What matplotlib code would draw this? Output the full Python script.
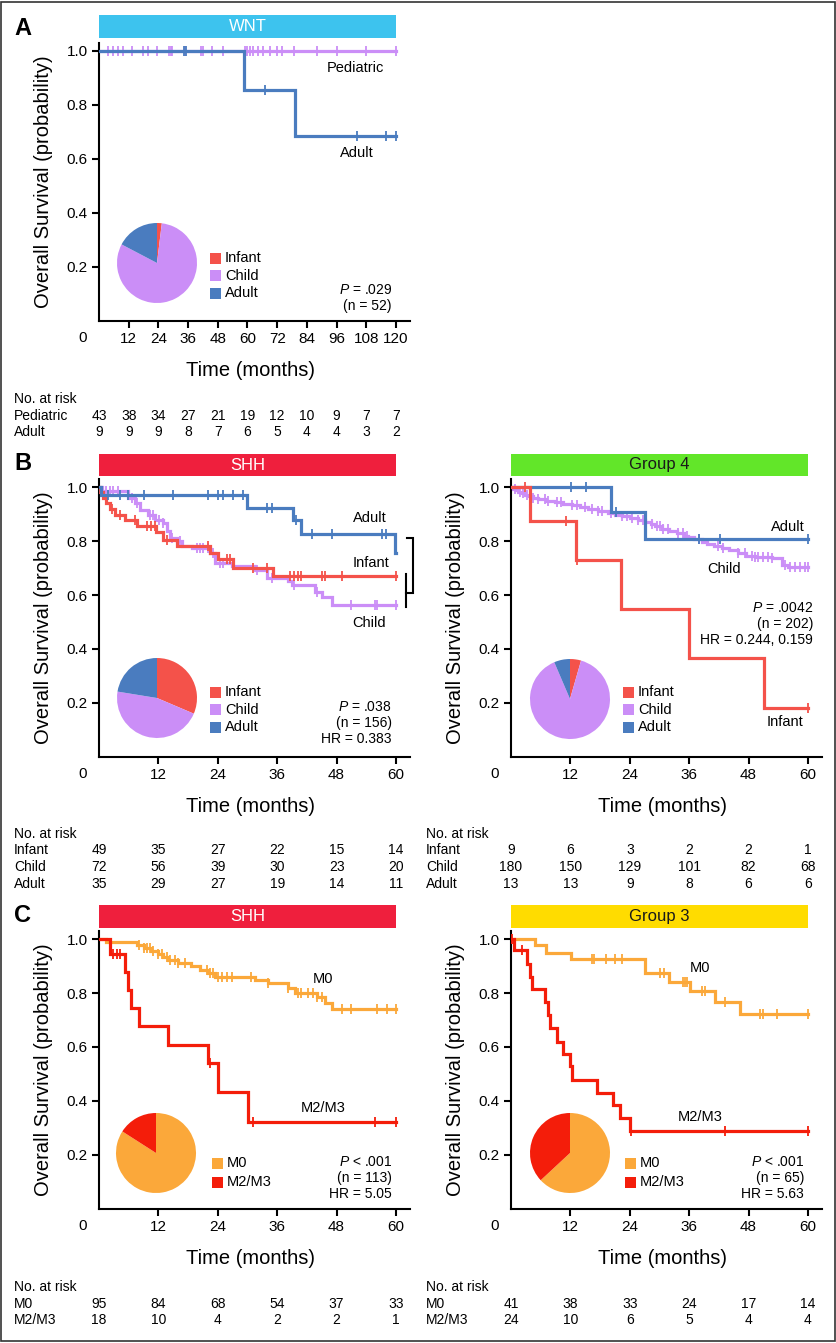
import numpy as np
import matplotlib
matplotlib.use('Agg')
import matplotlib.pyplot as plt
from matplotlib.patches import Rectangle
from matplotlib.transforms import blended_transform_factory

plt.rcParams['font.family'] = ['Liberation Sans', 'DejaVu Sans']
plt.rcParams['mathtext.fontset'] = 'custom'
plt.rcParams['mathtext.rm'] = 'Liberation Sans'
plt.rcParams['mathtext.it'] = 'Liberation Sans:italic'

# ---------------- colours ----------------
C_INF = '#F4524A'
C_CHILD = '#CB8EF7'
C_ADULT = '#4A7CBF'
C_M0 = '#FBA83A'
C_M23 = '#F41D0A'

# ---------------- DATA ----------------
# Panel A  (WNT)
A_title = 'WNT'
A_ped_t = []
A_ped_s = []
A_ped_c = [3.5, 5.8, 7.8, 9.8, 13.5, 17.6, 19.9, 23.3, 28.3, 29.0, 29.6, 34.7, 41.2, 41.9,
           45.5, 50.2, 59.0, 59.7, 61.0, 62.3, 64.4, 66.4, 69.1, 71.8, 73.8, 78.9, 87.9,
           96.0, 107.8, 120.0]
A_adult_t = [58.6, 79.2]
A_adult_s = [0.857, 0.686]
A_adult_c = [34.3, 35.3, 67.1, 104.4, 116.0, 120.0]
A_pie_labels = ['Infant', 'Child', 'Adult']
A_pie_values = [1, 42, 9]
A_risk_times = [0, 12, 24, 36, 48, 60, 72, 84, 96, 108, 120]
A_risk_ped = [43, 38, 34, 27, 21, 19, 12, 10, 9, 7, 7]
A_risk_adult = [9, 9, 9, 8, 7, 6, 5, 4, 4, 3, 2]
A_stats = ['$P$ = .029', '(n = 52)']

# Panel B left (SHH, age)
BL_title = 'SHH'
BL_inf_t = [0.3, 0.8, 1.5, 2.3, 3.2, 5.3, 7.6, 11.6, 13.0, 15.7, 22.4, 24.1, 27.1, 35.2]
BL_inf_s = [0.980, 0.959, 0.939, 0.918, 0.897, 0.878, 0.856, 0.835, 0.804, 0.781, 0.755,
            0.733, 0.701, 0.671]
BL_inf_c = [2.6, 4.2, 7.3, 9.6, 10.6, 11.3, 13.7, 22.1, 25.8, 26.5, 31.2, 33.9, 38.6, 39.3,
            40.3, 40.9, 45.0, 45.7, 49.0, 60.0]
BL_child_t = [0.6, 5.9, 7.3, 8.3, 10.0, 11.3, 13.0, 13.7, 14.3, 15.7, 16.7, 18.7, 22.4, 23.4,
              26.8, 31.5, 33.9, 38.2, 38.9, 43.6, 45.0, 47.0]
BL_child_s = [0.986, 0.959, 0.941, 0.916, 0.897, 0.879, 0.866, 0.836, 0.811, 0.799, 0.780,
              0.774, 0.756, 0.720, 0.706, 0.694, 0.664, 0.652, 0.636, 0.610, 0.592, 0.563]
BL_child_c = [1.5, 2.2, 2.9, 3.9, 6.6, 7.6, 10.3, 11.0, 12.2, 13.0, 14.7, 16.4, 19.7, 20.4,
              21.1, 22.1, 23.1, 24.4, 25.1, 31.9, 34.9, 39.3, 44.0, 51.0, 55.8, 56.1, 60.0]
BL_adult_t = [0.5, 29.8, 39.1, 40.9, 59.9]
BL_adult_s = [0.971, 0.923, 0.878, 0.825, 0.754]
BL_adult_c = [1.9, 4.2, 5.9, 9.0, 15.0, 22.1, 24.1, 25.0, 27.1, 29.0, 33.9, 34.9, 39.9, 43.0,
              47.0, 57.1, 58.0]
BL_pie_values = [49, 72, 35]
B_risk_times = [0, 12, 24, 36, 48, 60]
BL_risk_inf = [49, 35, 27, 22, 15, 14]
BL_risk_child = [72, 56, 39, 30, 23, 20]
BL_risk_adult = [35, 29, 27, 19, 14, 11]
BL_stats = ['$P$ = .038', '(n = 156)', 'HR = 0.383']

# Panel B right (Group 4, age)
BR_title = 'Group 4'
BR_inf_t = [3.8, 13.1, 22.2, 36.0, 51.1]
BR_inf_s = [0.875, 0.729, 0.547, 0.365, 0.182]
BR_inf_c = [2.8, 11.1, 13.3, 60.0]
BR_child_t = [0.5, 1.0, 1.5, 2.2, 2.8, 3.6, 4.5, 5.5, 7.0, 8.9, 10.5, 12.3, 14.0, 15.6, 17.5,
              19.5, 21.0, 22.4, 24.0, 25.7, 27.0, 28.2, 29.1, 30.5, 32.0, 33.5, 35.0, 35.8,
              37.0, 38.5, 39.5, 41.0, 42.6, 44.0, 45.9, 47.5, 49.3, 52.7, 54.7, 56.0]
BR_child_s = [0.994, 0.989, 0.983, 0.978, 0.972, 0.966, 0.961, 0.955, 0.949, 0.944, 0.938,
              0.932, 0.925, 0.918, 0.912, 0.905, 0.898, 0.891, 0.885, 0.878, 0.870, 0.862,
              0.854, 0.846, 0.838, 0.829, 0.820, 0.815, 0.806, 0.797, 0.790, 0.781, 0.773,
              0.765, 0.755, 0.746, 0.740, 0.736, 0.712, 0.702]
BR_child_c = [0.8, 1.8, 2.5, 3.2, 3.8, 4.5, 5.5, 6.9, 7.5, 9.2, 10.2, 12.3, 13.3, 15.0, 16.3,
              17.6, 18.3, 20.3, 22.4, 23.4, 24.4, 25.7, 26.7, 28.4, 29.4, 30.1, 30.8, 31.8,
              33.8, 34.8, 35.5, 37.9, 41.9, 42.9, 45.9, 47.3, 48.6, 49.3, 50.0, 51.0, 52.0,
              52.7, 55.4, 56.4, 57.4, 58.4, 59.4, 60.0]
BR_adult_t = [20.2, 27.1]
BR_adult_s = [0.909, 0.808]
BR_adult_c = [12.1, 15.2, 21.3, 38.0, 42.2, 60.0]
BR_pie_values = [9, 180, 13]
BR_risk_inf = [9, 6, 3, 2, 2, 1]
BR_risk_child = [180, 150, 129, 101, 82, 68]
BR_risk_adult = [13, 13, 9, 8, 6, 6]
BR_stats = ['$P$ = .0042', '(n = 202)', 'HR = 0.244, 0.159']

# Panel C left (SHH, metastasis)
CL_title = 'SHH'
CL_m0_t = [1.5, 7.6, 9.0, 10.5, 12.0, 13.0, 14.0, 16.0, 18.5, 20.5, 22.0, 23.4, 31.5, 34.2,
           38.2, 39.6, 44.0, 45.7, 47.0]
CL_m0_s = [0.989, 0.978, 0.967, 0.956, 0.945, 0.934, 0.922, 0.911, 0.899, 0.887, 0.875,
           0.860, 0.849, 0.836, 0.818, 0.801, 0.786, 0.764, 0.741]
CL_m0_c = [8.0, 9.0, 9.6, 10.3, 11.0, 12.0, 12.7, 13.7, 14.3, 15.4, 16.0, 17.4, 21.8, 22.4,
           23.1, 24.1, 24.8, 25.8, 26.8, 30.8, 34.2, 38.2, 40.3, 40.9, 42.3, 43.3, 44.0,
           45.0, 49.0, 51.0, 56.1, 58.1, 60.0]
CL_m23_t = [2.2, 5.3, 5.9, 6.5, 8.0, 13.9, 22.1, 24.1, 30.2]
CL_m23_s = [0.944, 0.879, 0.811, 0.743, 0.676, 0.607, 0.542, 0.432, 0.324]
CL_m23_c = [2.9, 3.6, 4.2, 22.4, 31.2, 55.8, 60.0]
M_pie_labels = ['M0', 'M2/M3']
CL_pie_values = [95, 18]
CL_risk_m0 = [95, 84, 68, 54, 37, 33]
CL_risk_m23 = [18, 10, 4, 2, 2, 1]
CL_stats = ['$P$ < .001', '(n = 113)', 'HR = 5.05']

# Panel C right (Group 3, metastasis)
CR_title = 'Group 3'
CR_m0_t = [4.9, 7.0, 12.1, 27.0, 32.0, 36.2, 41.2, 46.2]
CR_m0_s = [0.976, 0.949, 0.925, 0.873, 0.842, 0.809, 0.768, 0.722]
CR_m0_c = [16.4, 16.8, 19.1, 21.0, 22.4, 30.1, 31.0, 34.8, 35.2, 35.5, 38.5, 39.1, 43.2,
           50.3, 51.0, 53.7, 60.0]
CR_m23_t = [0.7, 3.2, 3.8, 4.2, 6.9, 7.4, 7.9, 9.2, 10.6, 11.9, 12.3, 17.3, 20.7, 22.0, 24.0]
CR_m23_s = [0.958, 0.909, 0.860, 0.814, 0.766, 0.718, 0.669, 0.620, 0.573, 0.528, 0.479,
            0.430, 0.385, 0.338, 0.289]
CR_m23_c = [0.3, 2.2, 24.3, 43.2, 60.0]
CR_pie_values = [41, 24]
CR_risk_m0 = [41, 38, 33, 24, 17, 14]
CR_risk_m23 = [24, 10, 6, 5, 4, 4]
CR_stats = ['$P$ < .001', '(n = 65)', 'HR = 5.63']

# ---------------- FIGURE ----------------
W, H = 837, 1343
fig = plt.figure(figsize=(W / 100, H / 100), dpi=100)
fig.patch.set_facecolor('white')


def fx(px):
    return px / W


def fy(py):
    return 1 - py / H


def ftext(px, py, s, **kw):
    fig.text(fx(px), fy(py), s, **kw)


def make_axes(left, top, right, bottom, xmax, ticks):
    ax = fig.add_axes([fx(left), fy(bottom), (right - left) / W, (bottom - top) / H])
    ax.set_xlim(0, xmax)
    ax.set_ylim(0, (bottom - top) / 270.0)
    for sp in ['top', 'right']:
        ax.spines[sp].set_visible(False)
    for sp in ['left', 'bottom']:
        ax.spines[sp].set_linewidth(1.5)
    ax.set_xticks(ticks)
    ax.set_xticklabels([str(t) for t in ticks])
    ax.set_yticks([0.2, 0.4, 0.6, 0.8, 1.0])
    ax.set_yticklabels(['0.2', '0.4', '0.6', '0.8', '1.0'])
    ax.tick_params(axis='both', direction='out', length=5, width=1.5, labelsize=11, pad=3)
    ax.patch.set_alpha(0)
    # origin "0"
    ax.annotate('0', xy=(0, 0), xycoords='axes fraction', xytext=(-16 * 0.72, -17 * 0.72),
                textcoords='offset points', ha='center', va='center', fontsize=11)
    # y label and x label
    ax.text((44 - 99) / (right - left) if left < 400 else (456 - 511) / (right - left), 0.5,
            'Overall Survival (probability)', transform=ax.transAxes, rotation=90,
            ha='center', va='center', fontsize=14.5)
    ftext((left + right) / 2 - 4, bottom + 50, 'Time (months)', ha='center', va='center',
          fontsize=14.5)
    return ax


def banner(ax, top_px, bot_px, axtop, axbot, xend, text, color, tcolor):
    tr = blended_transform_factory(ax.transData, ax.transAxes)
    h = axbot - axtop
    y0 = (axbot - bot_px) / h
    y1 = (axbot - top_px) / h
    ax.add_patch(Rectangle((0, y0), xend, y1 - y0, transform=tr, facecolor=color,
                           edgecolor='none', clip_on=False))
    ax.text(xend / 2, (y0 + y1) / 2, text, transform=tr, ha='center', va='center',
            color=tcolor, fontsize=12)


def km(ax, t, s, end, cens, color, z):
    t = np.asarray(t, dtype=float)
    s = np.asarray(s, dtype=float)
    last = s[-1] if len(s) else 1.0
    x = np.concatenate([[0.0], t, [end]])
    y = np.concatenate([[1.0], s, [last]])
    ax.step(x, y, where='post', color=color, lw=2.3, zorder=z, solid_joinstyle='miter')
    ct = np.asarray(cens, dtype=float)
    idx = np.searchsorted(t, ct, side='right')
    cy = np.concatenate([[1.0], s])[idx]
    ax.plot(ct, cy, ls='none', marker='|', ms=6.5, mew=1.3, color=color, zorder=z + 0.5)


def pie(cx, cy, values, colors):
    r = 40
    pa = fig.add_axes([fx(cx - r), fy(cy + r), 2 * r / W, 2 * r / H])
    pa.pie(values, colors=colors, startangle=90, counterclock=False, radius=1,
           wedgeprops=dict(linewidth=0))
    pa.set_xlim(-1, 1)
    pa.set_ylim(-1, 1)
    pa.set_aspect('equal')
    pa.axis('off')


def legend(x, y, labels, colors, dy):
    for i, (lab, col) in enumerate(zip(labels, colors)):
        yy = y + i * dy
        fig.patches.append(Rectangle((fx(x), fy(yy + 5.5)), 11 / W, 11 / H,
                                     transform=fig.transFigure, facecolor=col,
                                     edgecolor='none'))
        ftext(x + 15, yy, lab, ha='left', va='center', fontsize=10.5)


def stats(xr, y, lines):
    for i, ln in enumerate(lines):
        ftext(xr, y + i * 16, ln, ha='right', va='center', fontsize=10)


def risk(ax, label_x, y0, times, rows, names):
    tr = blended_transform_factory(ax.transData, fig.transFigure)
    ftext(label_x, y0, 'No. at risk', ha='left', va='center', fontsize=10)
    for i, (name, vals) in enumerate(zip(names, rows)):
        yy = y0 + 16.5 * (i + 1)
        ftext(label_x, yy, name, ha='left', va='center', fontsize=10)
        for t, v in zip(times, vals):
            ax.text(t, fy(yy), str(v), transform=tr, ha='center', va='center', fontsize=10)


def label_at(ax, x, y, s):
    ax.text(x, y, s, ha='center', va='center', fontsize=10.5)


# ---------- Panel A ----------
axA = make_axes(99, 43, 410, 321, 125.66, [12, 24, 36, 48, 60, 72, 84, 96, 108, 120])
banner(axA, 15, 38, 43, 321, 120, A_title, '#3DC3EE', 'white')
km(axA, A_ped_t, A_ped_s, 120, A_ped_c, C_CHILD, 2)
km(axA, A_adult_t, A_adult_s, 120, A_adult_c, C_ADULT, 3)
label_at(axA, 103.8, 0.937, 'Pediatric')
label_at(axA, 104.2, 0.622, 'Adult')
pie(157, 263, A_pie_values, [C_INF, C_CHILD, C_ADULT])
legend(210, 258, A_pie_labels, [C_INF, C_CHILD, C_ADULT], 17.5)
stats(392, 290, A_stats)
risk(axA, 14, 399, A_risk_times, [A_risk_ped, A_risk_adult], ['Pediatric', 'Adult'])
ftext(14, 35, 'A', ha='left', va='baseline', fontsize=17, fontweight='bold')

# ---------- Panel B left ----------
axBL = make_axes(99, 479, 410, 757, 62.83, [12, 24, 36, 48, 60])
banner(axBL, 454, 476, 479, 757, 60, BL_title, '#EF1F3D', 'white')
km(axBL, BL_child_t, BL_child_s, 60, BL_child_c, C_CHILD, 2)
km(axBL, BL_inf_t, BL_inf_s, 60, BL_inf_c, C_INF, 3)
km(axBL, BL_adult_t, BL_adult_s, 60, BL_adult_c, C_ADULT, 4)
label_at(axBL, 54.7, 0.885, 'Adult')
label_at(axBL, 54.9, 0.719, 'Infant')
label_at(axBL, 54.5, 0.496, 'Child')
# significance brackets
axBL.plot([62.3, 63.4, 63.4, 62.0], [0.812, 0.812, 0.609, 0.609], color='black', lw=1.5,
          clip_on=False, solid_joinstyle='miter')
axBL.plot([62.0, 62.0], [0.677, 0.557], color='black', lw=1.5, clip_on=False)
pie(157, 698, BL_pie_values, [C_INF, C_CHILD, C_ADULT])
legend(210, 692, A_pie_labels, [C_INF, C_CHILD, C_ADULT], 17.5)
stats(392, 707, BL_stats)
risk(axBL, 14, 834, B_risk_times, [BL_risk_inf, BL_risk_child, BL_risk_adult],
     ['Infant', 'Child', 'Adult'])
ftext(14, 470, 'B', ha='left', va='baseline', fontsize=17, fontweight='bold')

# ---------- Panel B right ----------
axBR = make_axes(511, 479, 822, 757, 62.83, [12, 24, 36, 48, 60])
banner(axBR, 454, 476, 479, 757, 60, BR_title, '#62E629', '#1a1a1a')
km(axBR, BR_child_t, BR_child_s, 60, BR_child_c, C_CHILD, 2)
km(axBR, BR_adult_t, BR_adult_s, 60, BR_adult_c, C_ADULT, 3)
km(axBR, BR_inf_t, BR_inf_s, 60, BR_inf_c, C_INF, 4)
label_at(axBR, 56.0, 0.852, 'Adult')
label_at(axBR, 43.0, 0.696, 'Child')
label_at(axBR, 55.4, 0.130, 'Infant')
pie(570, 699, BR_pie_values, [C_INF, C_CHILD, C_ADULT])
legend(623, 692, A_pie_labels, [C_INF, C_CHILD, C_ADULT], 17.5)
stats(813, 608, BR_stats)
risk(axBR, 426, 834, B_risk_times, [BR_risk_inf, BR_risk_child, BR_risk_adult],
     ['Infant', 'Child', 'Adult'])

# ---------- Panel C left ----------
axCL = make_axes(99, 931, 410, 1209, 62.83, [12, 24, 36, 48, 60])
banner(axCL, 905, 928, 931, 1209, 60, CL_title, '#EF1F3D', 'white')
km(axCL, CL_m0_t, CL_m0_s, 60, CL_m0_c, C_M0, 2)
km(axCL, CL_m23_t, CL_m23_s, 60, CL_m23_c, C_M23, 3)
label_at(axCL, 45.3, 0.852, 'M0')
label_at(axCL, 45.3, 0.374, 'M2/M3')
pie(156, 1153, CL_pie_values, [C_M0, C_M23])
legend(212, 1163, M_pie_labels, [C_M0, C_M23], 19.5)
stats(392, 1162, CL_stats)
risk(axCL, 14, 1287, B_risk_times, [CL_risk_m0, CL_risk_m23], ['M0', 'M2/M3'])
ftext(14, 922, 'C', ha='left', va='baseline', fontsize=17, fontweight='bold')

# ---------- Panel C right ----------
axCR = make_axes(511, 931, 822, 1209, 62.83, [12, 24, 36, 48, 60])
banner(axCR, 905, 928, 931, 1209, 60, CR_title, '#FFDC00', '#1a1a1a')
km(axCR, CR_m0_t, CR_m0_s, 60, CR_m0_c, C_M0, 2)
km(axCR, CR_m23_t, CR_m23_s, 60, CR_m23_c, C_M23, 3)
label_at(axCR, 38.2, 0.893, 'M0')
label_at(axCR, 38.2, 0.341, 'M2/M3')
pie(570, 1153, CR_pie_values, [C_M0, C_M23])
legend(625, 1163, M_pie_labels, [C_M0, C_M23], 19.5)
stats(804, 1162, CR_stats)
risk(axCR, 426, 1287, B_risk_times, [CR_risk_m0, CR_risk_m23], ['M0', 'M2/M3'])

# outer frame
fig.patches.append(Rectangle((fx(1.5), fy(1341)), 833.5 / W, 1339.5 / H,
                             transform=fig.transFigure, fill=False, edgecolor='#333333',
                             lw=1.2))

fig.savefig('out.png', dpi=100)
